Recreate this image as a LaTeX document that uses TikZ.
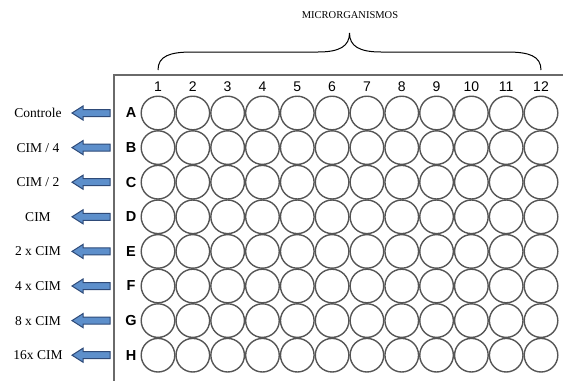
\documentclass[tikz,border=0pt]{standalone}
\usepackage{fontspec}
\setmainfont{Liberation Serif}
\newfontfamily\arialf{Liberation Sans}
\definecolor{wellline}{HTML}{555555}
\definecolor{boxline}{HTML}{6A6A6A}
\definecolor{arrfill}{HTML}{5D8FCB}
\definecolor{arrdraw}{HTML}{2E4A78}
\tikzset{
  well/.style={circle, draw=wellline, line width=1.4pt, minimum size=33.6pt, inner sep=0pt},
  platebox/.style={draw=boxline, line width=1.1pt},
  collab/.style={font=\arialf\fontsize{14}{16}\selectfont, inner sep=0pt},
  rowlab/.style={font=\arialf\bfseries\fontsize{14.5}{16}\selectfont, inner sep=0pt},
  sidelab/.style={font=\fontsize{13.5}{15}\selectfont, inner sep=0pt},
  toplab/.style={font=\fontsize{10.5}{12}\selectfont, inner sep=0pt},
  bluearrow/.style={fill=arrfill, draw=arrdraw, line width=1pt, line join=miter},
  bracepath/.style={draw=black, line width=1pt}
}
\begin{document}
\begin{tikzpicture}[x=1pt,y=-1pt]
\useasboundingbox (0,0) rectangle (563,381);
% plate outline
\coordinate (boxTR) at (563,75);
\coordinate (boxBL) at (114,381);
\draw[platebox] (boxTR) -| (boxBL);
% column labels
\foreach \c in {1,...,12}
  \node[collab] (col\c) at ({158+(\c-1)*34.82},87) {\c};
% rows
\foreach \r/\lab [count=\i] in {A/{Controle},B/{CIM / 4},C/{CIM / 2},D/{CIM},E/{2 x CIM},F/{4 x CIM},G/{8 x CIM},H/{16x CIM}}{
  \pgfmathsetmacro{\yy}{113+(\i-1)*34.6}
  \node[rowlab] (row\r) at (131,\yy) {\r};
  \foreach \c in {1,...,12}
    \node[well] (w\r\c) at ({158+(\c-1)*34.82},\yy) {};
  \node[sidelab] (lab\r) at (38,\yy) {\lab};
  \draw[bluearrow] (72,\yy) -- (83,\yy-7) -- (83,\yy-3.5) -- (110,\yy-3.5)
     -- (110,\yy+3.5) -- (83,\yy+3.5) -- (83,\yy+7) -- cycle;
}
% brace
\coordinate (braceL) at (158,70);
\coordinate (braceTip) at (349.5,33);
\coordinate (braceR) at (541,70);
\draw[bracepath] (braceL) .. controls (158,56) and (170,52) .. (192,52) -- (318,52)
  .. controls (340,52) and (349.5,46) .. (braceTip)
  .. controls (349.5,46) and (359,52) .. (381,52) -- (507,52)
  .. controls (529,52) and (541,56) .. (braceR);
\node[toplab] (micro) at (350,15) {MICRORGANISMOS};
\end{tikzpicture}
\end{document}
